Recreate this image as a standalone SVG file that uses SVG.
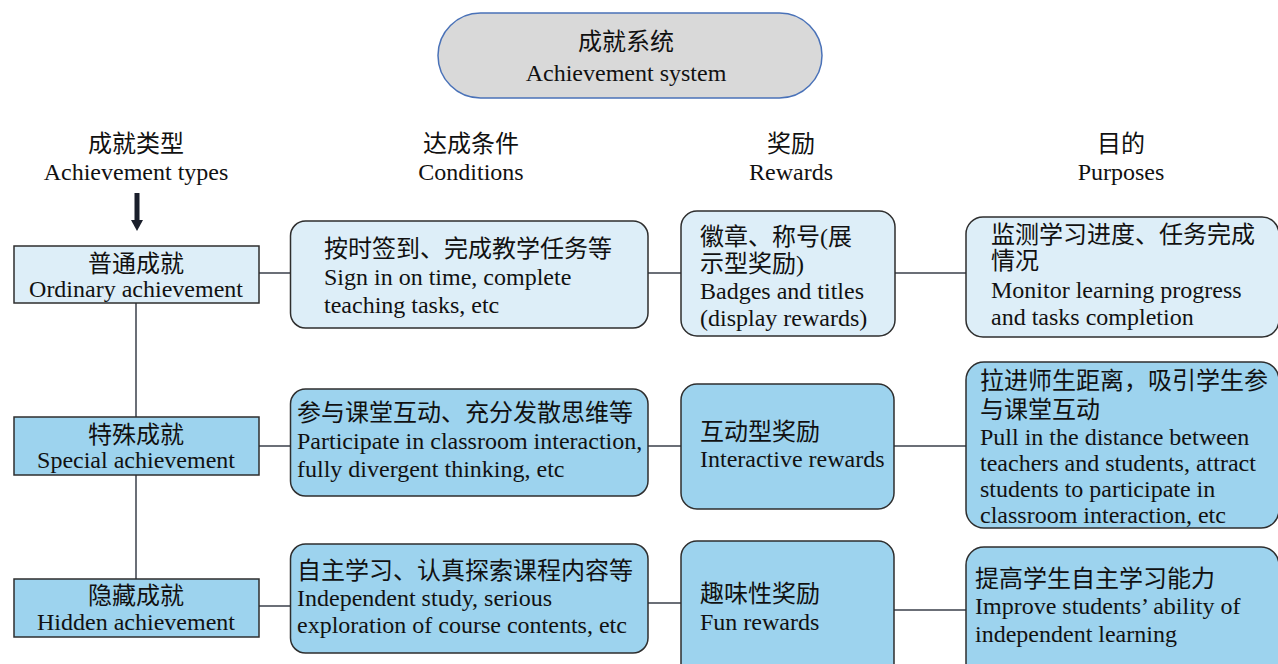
<svg xmlns="http://www.w3.org/2000/svg" width="1278" height="664" viewBox="0 0 1278 664">
<style>
text{font-family:"Liberation Serif","Noto Sans CJK SC",serif;font-size:24px;fill:#111}
.c{text-anchor:middle}
.lt{fill:#ddeef8;stroke:#2e2e2e;stroke-width:1.5}
.dk{fill:#9dd3ee;stroke:#2e2e2e;stroke-width:1.5}
.ln{stroke:#3a3f4a;stroke-width:1.5;fill:none}
</style>
<rect width="1278" height="664" fill="#fff"/>
<g id="root">
<rect x="438" y="13" width="384" height="85" rx="42.5" fill="#d9d9d9" stroke="#4a72b8" stroke-width="1.5"/>
<text class="c" x="626" y="50">成就系统</text>
<text class="c" x="626" y="81">Achievement system</text>
</g>
<g id="headers">
<text class="c" x="136" y="152">成就类型</text>
<text class="c" x="136" y="180">Achievement types</text>
<text class="c" x="471" y="152">达成条件</text>
<text class="c" x="471" y="180">Conditions</text>
<text class="c" x="791" y="152">奖励</text>
<text class="c" x="791" y="180">Rewards</text>
<text class="c" x="1121" y="152">目的</text>
<text class="c" x="1121" y="180">Purposes</text>
</g>
<g id="connectors">
<rect x="134.5" y="193" width="5" height="28" fill="#1a1f2b"/>
<polygon points="131,220 143,220 137,231" fill="#1a1f2b"/>
<line class="ln" x1="136" y1="303" x2="136" y2="417"/>
<line class="ln" x1="136" y1="475" x2="136" y2="579"/>
<line class="ln" x1="259" y1="273" x2="290" y2="273"/>
<line class="ln" x1="648" y1="273" x2="681" y2="273"/>
<line class="ln" x1="895" y1="273" x2="966" y2="273"/>
<line class="ln" x1="259" y1="446" x2="290" y2="446"/>
<line class="ln" x1="648" y1="446" x2="681" y2="446"/>
<line class="ln" x1="894" y1="446" x2="966" y2="446"/>
<line class="ln" x1="259" y1="606" x2="290" y2="606"/>
<line class="ln" x1="648" y1="603" x2="681" y2="603"/>
<line class="ln" x1="894" y1="610" x2="966" y2="610"/>
</g>
<g id="type1">
<rect class="lt" x="14" y="246" width="245" height="57"/>
<text class="c" x="136" y="272">普通成就</text>
<text class="c" x="136" y="297">Ordinary achievement</text>
</g>
<g id="type2">
<rect class="dk" x="14" y="417" width="245" height="58"/>
<text class="c" x="136" y="443">特殊成就</text>
<text class="c" x="136" y="468">Special achievement</text>
</g>
<g id="type3">
<rect class="dk" x="14" y="579" width="245" height="58"/>
<text class="c" x="136" y="604">隐藏成就</text>
<text class="c" x="136" y="630">Hidden achievement</text>
</g>
<g id="cond1">
<rect class="lt" x="290.5" y="221" width="357.5" height="107" rx="15"/>
<text x="324" y="257">按时签到、完成教学任务等</text>
<text x="324" y="285">Sign in on time, complete</text>
<text x="324" y="313">teaching tasks, etc</text>
</g>
<g id="cond2">
<rect class="dk" x="290.5" y="389" width="357.5" height="107" rx="15"/>
<text x="297" y="421">参与课堂互动、充分发散思维等</text>
<text x="297" y="449">Participate in classroom interaction,</text>
<text x="297" y="477">fully divergent thinking, etc</text>
</g>
<g id="cond3">
<rect class="dk" x="290.5" y="544" width="357.5" height="109" rx="15"/>
<text x="297" y="579">自主学习、认真探索课程内容等</text>
<text x="297" y="606">Independent study, serious</text>
<text x="297" y="633">exploration of course contents, etc</text>
</g>
<g id="reward1">
<rect class="lt" x="681" y="211" width="214" height="125" rx="16"/>
<text x="700" y="245">徽章、称号(展</text>
<text x="700" y="272">示型奖励)</text>
<text x="700" y="299">Badges and titles</text>
<text x="700" y="326">(display rewards)</text>
</g>
<g id="reward2">
<rect class="dk" x="681" y="384" width="213" height="125" rx="16"/>
<text x="700" y="440">互动型奖励</text>
<text x="700" y="467">Interactive rewards</text>
</g>
<g id="reward3">
<rect class="dk" x="681" y="541" width="213" height="140" rx="16"/>
<text x="700" y="602">趣味性奖励</text>
<text x="700" y="630">Fun rewards</text>
</g>
<g id="purpose1">
<rect class="lt" x="966" y="217" width="313" height="120" rx="17"/>
<text x="991" y="243">监测学习进度、任务完成</text>
<text x="991" y="269">情况</text>
<text x="991" y="298">Monitor learning progress</text>
<text x="991" y="325">and tasks completion</text>
</g>
<g id="purpose2">
<rect class="dk" x="966" y="362" width="313" height="166" rx="18"/>
<text x="980" y="389">拉进师生距离，吸引学生参</text>
<text x="980" y="418">与课堂互动</text>
<text x="980" y="445">Pull in the distance between</text>
<text x="980" y="471">teachers and students, attract</text>
<text x="980" y="497">students to participate in</text>
<text x="980" y="523">classroom interaction, etc</text>
</g>
<g id="purpose3">
<rect class="dk" x="966" y="547" width="313" height="134" rx="18"/>
<text x="975" y="587">提高学生自主学习能力</text>
<text x="975" y="614">Improve students’ ability of</text>
<text x="975" y="642">independent learning</text>
</g>
</svg>
